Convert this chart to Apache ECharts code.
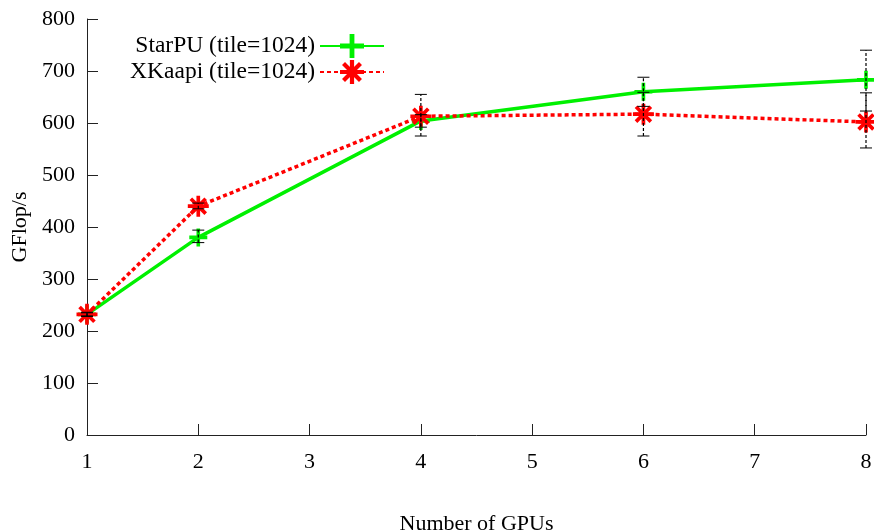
<!DOCTYPE html>
<html>
<head>
<meta charset="utf-8">
<script src="https://cdn.jsdelivr.net/npm/echarts@6/dist/echarts.min.js"></script>
<style>html,body{margin:0;padding:0;background:#fff;overflow:hidden;}#c{width:874px;height:532px;}</style>
</head>
<body>
<div id="c"></div>
<script>
const gpus = [1, 2, 4, 6, 8];
const xTicks = [1, 2, 3, 4, 5, 6, 7, 8];
const starpu = [232, 380, 604, 660, 683];
const starpuLow = [228, 370, 592, 632, 623];
const starpuHigh = [236, 394, 616, 688, 740];
const xkaapi = [232, 440, 613, 617, 602];
const xkaapiLow = [229, 435, 575, 575, 552];
const xkaapiHigh = [235, 446, 655, 659, 658];

const FONT = 'Liberation Serif';
const GREEN = '#00f000';
const RED = '#ff0000';
const PLUS = 'path://M8,0H12V8H20V12H12V20H8V12H0V8H8Z';
const STAR = 'path://M8.25,0H11.75V20H8.25Z M0,8.25H20V11.75H0Z M4.17,1.69L18.31,15.83L15.83,18.31L1.69,4.17Z M1.69,15.83L15.83,1.69L18.31,4.17L4.17,18.31Z';

function errData(lo, hi) { return gpus.map((g, i) => [g, lo[i], hi[i]]); }
function errSeries(name, lo, hi) {
  return {
    type: 'custom', name: name + '_err', z: 10, silent: true,
    data: errData(lo, hi),
    renderItem: function (params, api) {
      const x = api.value(0);
      const p1 = api.coord([x, api.value(1)]);
      const p2 = api.coord([x, api.value(2)]);
      const w = 6;
      const st = { stroke: '#000', lineWidth: 1 };
      return {
        type: 'group', children: [
          { type: 'line', shape: { x1: p1[0], y1: p1[1], x2: p2[0], y2: p2[1] }, style: { stroke: '#000', lineWidth: 1.2, lineDash: [3, 2] } },
          { type: 'line', shape: { x1: p1[0] - w, y1: p1[1], x2: p1[0] + w, y2: p1[1] }, style: st },
          { type: 'line', shape: { x1: p2[0] - w, y1: p2[1], x2: p2[0] + w, y2: p2[1] }, style: st }
        ]
      };
    }
  };
}

const chart = echarts.init(document.getElementById('c'));
chart.setOption({
  animation: false,
  backgroundColor: '#fff',
  grid: { left: 87, right: 8, top: 19, bottom: 97, containLabel: false, outerBoundsMode: 'none' },
  legend: {
    orient: 'vertical', align: 'right', right: 484, top: 29,
    itemWidth: 64, itemHeight: 30, itemGap: 2,
    data: ['StarPU (tile=1024)', 'XKaapi (tile=1024)'],
    textStyle: { fontFamily: FONT, fontSize: 23.5, color: '#000' }
  },
  xAxis: {
    type: 'value', min: 1, max: 8, interval: 1,
    name: 'Number of GPUs', nameLocation: 'middle', nameGap: 78,
    nameTextStyle: { fontFamily: FONT, fontSize: 22, color: '#000' },
    axisLine: { lineStyle: { color: '#222', width: 1 } },
    axisTick: { inside: true, length: 11, lineStyle: { color: '#222' } },
    axisLabel: { fontFamily: FONT, fontSize: 22, color: '#000', margin: 16,
      formatter: v => xTicks.includes(v) ? String(v) : '' },
    splitLine: { show: false }
  },
  yAxis: {
    type: 'value', min: 0, max: 800, interval: 100,
    name: 'GFlop/s', nameLocation: 'middle', nameGap: 54, nameRotate: 90,
    nameTextStyle: { fontFamily: FONT, fontSize: 22, color: '#000' },
    axisLine: { show: true, lineStyle: { color: '#222', width: 1 } },
    axisTick: { show: true, inside: true, length: 11, lineStyle: { color: '#222' } },
    axisLabel: { fontFamily: FONT, fontSize: 22, color: '#000', margin: 12 },
    splitLine: { show: false }
  },
  series: [
    {
      name: 'StarPU (tile=1024)', type: 'line', z: 3,
      data: gpus.map((g, i) => [g, starpu[i]]),
      symbol: PLUS, symbolSize: 18, showAllSymbol: true,
      lineStyle: { color: GREEN, width: 3.5 },
      itemStyle: { color: GREEN, borderWidth: 0 }
    },
    {
      name: 'XKaapi (tile=1024)', type: 'line', z: 4,
      data: gpus.map((g, i) => [g, xkaapi[i]]),
      symbol: STAR, symbolSize: 21, showAllSymbol: true,
      lineStyle: { color: RED, width: 3.5, type: [4, 3] },
      itemStyle: { color: RED, borderWidth: 0 }
    },
    errSeries('starpu', starpuLow, starpuHigh),
    errSeries('xkaapi', xkaapiLow, xkaapiHigh)
  ]
});
</script>
</body>
</html>
